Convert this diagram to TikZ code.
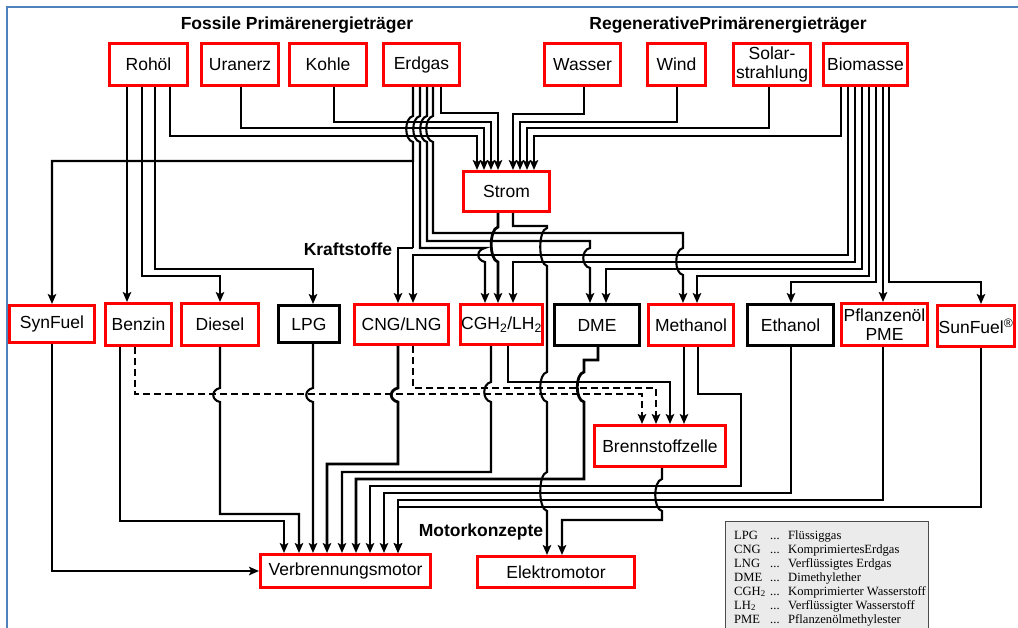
\documentclass[tikz,border=0pt]{standalone}
\usepackage{fontspec}
\setmainfont{Liberation Sans}
\newfontfamily\legfont{Liberation Serif}
\usetikzlibrary{arrows.meta}
\definecolor{frameblue}{HTML}{4F81BD}
\definecolor{leggray}{HTML}{EBEBEB}
\begin{document}
\begin{tikzpicture}[x=1pt,y=-1pt,
  box/.style={line width=3pt, inner sep=0pt, align=center, font=\fontsize{17.5}{19}\selectfont},
  rbox/.style={box, draw=red},
  kbox/.style={box, draw=black},
  ttl/.style={font=\fontsize{17.5}{19}\selectfont\bfseries, inner sep=0pt},
  wire/.style={line width=2.1pt},
  thk/.style={line width=2.8pt},
  arr/.style={-{Stealth[length=10pt,width=8.5pt,inset=2.2pt]}},
  dsh/.style={dash pattern=on 7pt off 4pt},
  jp/.style n args={3}{insert path={-- (#1,#2) .. controls ({#1-9},{#2+2}) and ({#1-9},{#3-2}) .. (#1,#3)}},
  leg/.style={font=\legfont\fontsize{12.6}{14}\selectfont, inner sep=0pt, anchor=base west},
]
\useasboundingbox[fill=white] (0,0) rectangle (1018,628);
\draw[frameblue, line width=2pt] (7,640) -- (7,7) -- (1030,7);

% titles
\node[ttl] (T1) at (297,25) {Fossile Primärenergieträger};
\node[ttl] (T2) at (728,25) {RegenerativePrimärenergieträger};
\node[ttl] (T3) at (348,249) {Kraftstoffe};
\node[ttl] (T4) at (481,532) {Motorkonzepte};

% primary sources
\node[rbox, minimum width=78pt, minimum height=42pt] (Rohol) at (148.5,64.5) {Rohöl};
\node[rbox, minimum width=77pt, minimum height=42pt] (Uranerz) at (240,64.5) {Uranerz};
\node[rbox, minimum width=77pt, minimum height=42pt] (Kohle) at (328,64.5) {Kohle};
\node[rbox, minimum width=76pt, minimum height=42pt] (Erdgas) at (421.5,64.5) {Erdgas};
\node[rbox, minimum width=76pt, minimum height=42pt] (Wasser) at (582.5,64.5) {Wasser};
\node[rbox, minimum width=58pt, minimum height=42pt] (Wind) at (676.5,64.5) {Wind};
\node[rbox, minimum width=77pt, minimum height=42pt] (Solar) at (772,64.5) {Solar-\\strahlung};
\node[rbox, minimum width=84pt, minimum height=42pt] (Biomasse) at (865.5,64.5) {Biomasse};
\node[rbox, minimum width=86pt, minimum height=40pt] (Strom) at (506.5,191.5) {Strom};

% fuels
\node[rbox, minimum width=85pt, minimum height=37pt] (SynFuel) at (52,324) {SynFuel};
\node[rbox, minimum width=66pt, minimum height=42pt] (Benzin) at (138.5,324.5) {Benzin};
\node[rbox, minimum width=77pt, minimum height=42pt] (Diesel) at (220,324.5) {Diesel};
\node[kbox, minimum width=61pt, minimum height=37pt] (LPG) at (309,324) {LPG};
\node[rbox, minimum width=94pt, minimum height=40pt] (CNG) at (401.5,324.5) {CNG/LNG};
\node[rbox, minimum width=82pt, minimum height=40pt] (CGH) at (501.5,324.5) {CGH\textsubscript{2}/LH\textsubscript{2}};
\node[kbox, minimum width=85pt, minimum height=41pt] (DME) at (597,325) {DME};
\node[rbox, minimum width=85pt, minimum height=41pt] (Methanol) at (691,325) {Methanol};
\node[kbox, minimum width=86pt, minimum height=41pt] (Ethanol) at (790.5,325) {Ethanol};
\node[rbox, minimum width=86pt, minimum height=42pt] (Pflanz) at (884.5,324.5) {Pflanzenöl\\PME};
\node[rbox, minimum width=77pt, minimum height=41pt] (SunFuelB) at (976,326) {SunFuel\textsuperscript{®}};

% converters
\node[rbox, minimum width=131pt, minimum height=41pt] (BZ) at (660,446) {Brennstoffzelle};
\node[rbox, minimum width=170pt, minimum height=33pt] (VM) at (345.5,571) {Verbrennungsmotor};
\node[rbox, minimum width=157pt, minimum height=31pt] (EM) at (556,572) {Elektromotor};

% ---- top wiring: into Strom
\draw[wire,arr] (127,0 |- Rohol.south) -- (127,0 |- Benzin.north);
\draw[wire,arr] (142,0 |- Rohol.south) |- (220,276) -- (220,0 |- Diesel.north);
\draw[wire,arr] (155,0 |- Rohol.south) |- (313,269) -- (313,0 |- LPG.north);
\draw[wire,arr] (170,0 |- Rohol.south) |- (477,136) -- (477,0 |- Strom.north);
\draw[wire,arr] (241,0 |- Uranerz.south) |- (484,128) -- (484,0 |- Strom.north);
\draw[wire,arr] (334,0 |- Kohle.south) |- (491,122) -- (491,0 |- Strom.north);
\draw[wire,arr] (441,0 |- Erdgas.south) |- (498,113) -- (498,0 |- Strom.north);
\draw[wire,arr] (584,0 |- Wasser.south) |- (513,114) -- (513,0 |- Strom.north);
\draw[wire,arr] (677,0 |- Wind.south) |- (520,122) -- (520,0 |- Strom.north);
\draw[wire,arr] (769,0 |- Solar.south) |- (527,128) -- (527,0 |- Strom.north);
\draw[wire,arr] (841,0 |- Biomasse.south) |- (534,136) -- (534,0 |- Strom.north);

% Erdgas branches
\draw[wire,arr] (413,0 |- Erdgas.south) [jp={413}{116}{142}] -- (413,161) -| (SynFuel.north);
\draw[wire] (413,161) -- (413,248);
\draw[thk,arr] (413,248) -| (398,0 |- CNG.north);
\draw[wire,arr] (420,0 |- Erdgas.south) [jp={420}{116}{142}] |- (485,248) [jp={485}{248}{262}] -- (485,0 |- CGH.north);
\draw[wire,arr] (427,0 |- Erdgas.south) [jp={427}{116}{142}] |- (590,241) [jp={590}{248}{268}] -- (590,0 |- DME.north);
\draw[wire,arr] (433,0 |- Erdgas.south) [jp={433}{116}{142}] |- (683,233) [jp={683}{248}{275}] -- (683,0 |- Methanol.north);

% Strom outputs
\draw[thk,arr] (498,0 |- Strom.south) [jp={498}{227}{262}] -- (498,0 |- CGH.north);
\draw[wire,arr] (513,0 |- Strom.south) |- (547,226) [jp={547}{228}{266}] [jp={547}{372}{402}] [jp={547}{472}{511}] -- (547,0 |- EM.north);

% Biomasse branches
\draw[wire,arr] (848,0 |- Biomasse.south) |- (413,255) -- (413,0 |- CNG.north);
\draw[wire,arr] (855,0 |- Biomasse.south) |- (513,262) -- (513,0 |- CGH.north);
\draw[wire,arr] (862,0 |- Biomasse.south) |- (606,269) -- (606,0 |- DME.north);
\draw[wire,arr] (869,0 |- Biomasse.south) |- (697,276) -- (697,0 |- Methanol.north);
\draw[wire,arr] (876,0 |- Biomasse.south) |- (791,282) -- (791,0 |- Ethanol.north);
\draw[wire,arr] (883,0 |- Biomasse.south) -- (883,0 |- Pflanz.north);
\draw[wire,arr] (889,0 |- Biomasse.south) |- (981,282) -- (981,0 |- SunFuelB.north);

% ---- bottom wiring
\draw[wire,arr] (SynFuel.south) |- (VM.west);
\draw[wire,arr] (120,0 |- Benzin.south) |- (284,521) -- (284,0 |- VM.north);
\draw[wire,dsh,arr] (135,0 |- Benzin.south) |- (642,394) -- (642,0 |- BZ.north);
\draw[wire,arr] (220,0 |- Diesel.south) [jp={220}{388}{402}] |- (299,514) -- (299,0 |- VM.north);
\draw[wire,arr] (313,0 |- LPG.south) [jp={313}{388}{402}] -- (313,0 |- VM.north);
\draw[thk,arr] (398,0 |- CNG.south) [jp={398}{388}{402}] |- (327,464) -- (327,0 |- VM.north);
\draw[wire,dsh,arr] (413,0 |- CNG.south) |- (656,388) -- (656,0 |- BZ.north);
\draw[wire,arr] (491,0 |- CGH.south) [jp={491}{382}{402}] |- (342,472) -- (342,0 |- VM.north);
\draw[wire,arr] (508,0 |- CGH.south) |- (670,382) -- (670,0 |- BZ.north);
\draw[thk,arr] (598,0 |- DME.south) |- (584,360) [jp={584}{372}{402}] |- (356,479) -- (356,0 |- VM.north);
\draw[wire,arr] (684,0 |- Methanol.south) -- (684,0 |- BZ.north);
\draw[wire,arr] (698,0 |- Methanol.south) |- (741,394) |- (370,486) -- (370,0 |- VM.north);
\draw[wire,arr] (791,0 |- Ethanol.south) |- (384,493) -- (384,0 |- VM.north);
\draw[wire,arr] (883,0 |- Pflanz.south) |- (398,500) -- (398,0 |- VM.north);
\draw[thk,arr] (981,0 |- SunFuelB.south) |- (398,507) -- (398,0 |- VM.north);
\draw[wire,arr] (662,0 |- BZ.south) [jp={662}{479}{511}] |- (562,520) -- (562,0 |- EM.north);

% legend
\node[draw=black!70, fill=leggray, line width=1.3pt, minimum width=203pt, minimum height=119pt, inner sep=0pt, anchor=north west] (Legend) at (725,521) {};
\node[leg] (l1a) at (734,539) {LPG};  \node[leg] (l1b) at (770,539) {...}; \node[leg] (l1c) at (788,539) {Flüssiggas};
\node[leg] (l2a) at (734,553) {CNG};  \node[leg] (l2b) at (770,553) {...}; \node[leg] (l2c) at (788,553) {KomprimiertesErdgas};
\node[leg] (l3a) at (734,567) {LNG};  \node[leg] (l3b) at (770,567) {...}; \node[leg] (l3c) at (788,567) {Verflüssigtes Erdgas};
\node[leg] (l4a) at (734,581) {DME};  \node[leg] (l4b) at (770,581) {...}; \node[leg] (l4c) at (788,581) {Dimethylether};
\node[leg] (l5a) at (734,595) {CGH\textsubscript{2}}; \node[leg] (l5b) at (770,595) {...}; \node[leg] (l5c) at (788,595) {Komprimierter Wasserstoff};
\node[leg] (l6a) at (734,609) {LH\textsubscript{2}};  \node[leg] (l6b) at (770,609) {...}; \node[leg] (l6c) at (788,609) {Verflüssigter Wasserstoff};
\node[leg] (l7a) at (734,623) {PME};  \node[leg] (l7b) at (770,623) {...}; \node[leg] (l7c) at (788,623) {Pflanzenölmethylester};
\end{tikzpicture}
\end{document}
